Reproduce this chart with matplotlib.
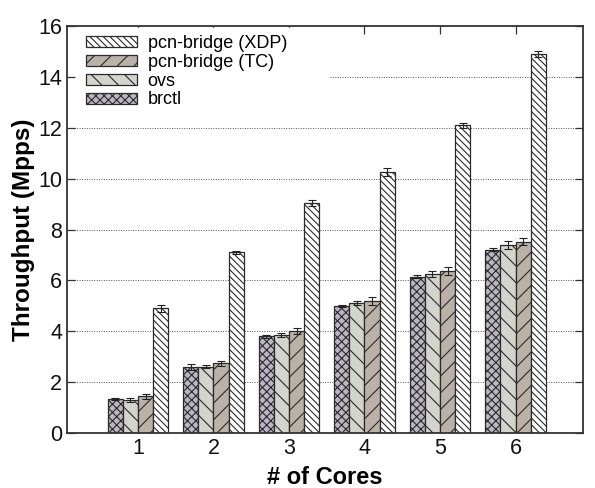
import matplotlib.pyplot as plt
import numpy as np

plt.rcParams["font.family"] = ["Liberation Sans", "DejaVu Sans"]
plt.rcParams["hatch.linewidth"] = 0.8

cores = [1, 2, 3, 4, 5, 6]
series = ["brctl", "ovs", "pcn-bridge (TC)", "pcn-bridge (XDP)"]

brctl = [1.35, 2.60, 3.80, 5.00, 6.15, 7.20]
ovs = [1.30, 2.60, 3.85, 5.10, 6.25, 7.38]
pcn_tc = [1.45, 2.75, 4.00, 5.20, 6.38, 7.52]
pcn_xdp = [4.90, 7.10, 9.05, 10.25, 12.10, 14.90]

brctl_err = [0.04, 0.12, 0.05, 0.05, 0.07, 0.06]
ovs_err = [0.08, 0.06, 0.09, 0.07, 0.12, 0.16]
pcn_tc_err = [0.10, 0.10, 0.12, 0.15, 0.16, 0.14]
pcn_xdp_err = [0.14, 0.07, 0.12, 0.15, 0.10, 0.10]

values = [brctl, ovs, pcn_tc, pcn_xdp]
errors = [brctl_err, ovs_err, pcn_tc_err, pcn_xdp_err]

# look of each series (fill colour, hatch)
styles = [
    ("#bab6c4", "xxxx"),
    ("#d3d4cc", "\\\\"),
    ("#bbb1a7", "//"),
    ("#ffffff", "\\\\\\\\\\"),
]

fig = plt.figure(figsize=(5.95, 4.88), dpi=100)
ax = fig.add_axes((0.1126, 0.1127, 0.868, 0.834))

x = np.arange(len(cores)) + 1
width = 0.2
bars = []
for i, (vals, errs) in enumerate(zip(values, errors)):
    color, hatch = styles[i]
    pos = x + (i - 1.5) * width
    b = ax.bar(pos, vals, width, color=color, hatch=hatch, edgecolor="#2a2a2a",
               linewidth=0.9, label=series[i], zorder=2)
    ax.errorbar(pos, vals, yerr=errs, fmt="none", ecolor="#222222",
                elinewidth=0.8, capsize=3, capthick=0.8, zorder=3)
    bars.append(b)

ax.set_xlim(0.06, 6.9)
ax.set_ylim(0, 16)
ax.set_xticks(x)
ax.set_xticklabels([str(c) for c in cores])
ax.set_yticks(np.arange(0, 17, 2))
ax.tick_params(direction="in", length=6, width=0.9, labelsize=15.5,
               top=True, right=True, colors="#333333", labelcolor="#111111")

# dotted grid; the 14 line is hidden behind the key on the left
for yv in range(2, 16, 2):
    xmin = 0.51 if yv == 14 else 0
    ax.axhline(yv, xmin=xmin, color="#555555", linestyle=(0, (1, 1.5)),
               linewidth=0.7, zorder=0)

for s in ax.spines.values():
    s.set_linewidth(1.3)
    s.set_color("#333333")

ax.set_xlabel("# of Cores", fontsize=17, fontweight="bold", labelpad=5)
ax.set_ylabel("Throughput (Mpps)", fontsize=17.5, fontweight="bold", labelpad=2)

leg = ax.legend(bars[::-1], series[::-1], loc="upper left", fontsize=13,
                frameon=True, fancybox=False, handlelength=2.8, handleheight=0.55,
                labelspacing=0.1, handletextpad=0.6, borderaxespad=0.1,
                bbox_to_anchor=(0.02, 1.0))
leg.get_frame().set_facecolor("white")
leg.get_frame().set_edgecolor("white")
leg.get_frame().set_alpha(1.0)
leg.set_zorder(5)

fig.savefig("out.png", dpi=100)
